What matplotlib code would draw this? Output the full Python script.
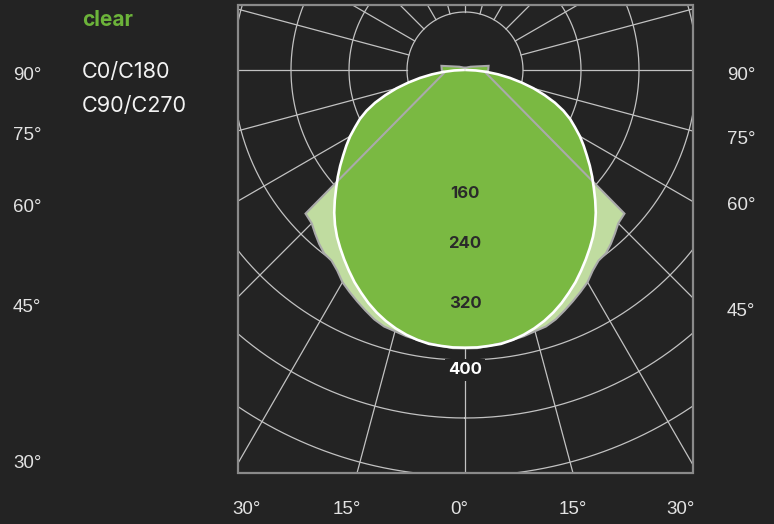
import numpy as np
import matplotlib
matplotlib.use("Agg")
import matplotlib.pyplot as plt
from matplotlib.patches import Rectangle
from matplotlib.transforms import offset_copy

# ---------------- data (cd per klm) ----------------
gamma_c0 = [0, 2.5, 5, 7.5, 10, 12.5, 15, 17.5, 20, 22.5, 25, 27.5, 30, 32.5, 35, 37.5,
            40, 42.5, 45, 47.5, 50, 52.5, 55, 57.5, 60, 62.5, 65, 67.5, 70, 72.5, 75,
            77.5, 80, 82.5, 85, 87.5, 90]
c0_c180 = [383, 383, 382, 381, 378, 374, 369, 363, 356, 348, 339, 330, 320, 310, 300, 290,
           279, 267, 254, 241, 229, 217, 205, 194, 183, 171, 160, 147, 132, 115, 98,
           80, 63, 46, 30, 15, 2]

gamma_c90 = [0, 2.5, 5, 7.5, 10, 12.5, 15, 17.5, 20, 22.5, 25, 27.5, 30, 32.5, 35, 37.5,
             40, 42.5, 45, 48, 82, 90, 100, 120, 180]
c90_c270 = [384, 384, 382, 380, 378, 376, 373, 371, 366, 359, 352, 345, 338, 328, 321, 319,
            313, 306, 299, 296, 29, 32, 33, 9, 3]

ring_values = [80, 160, 240, 320, 400, 480, 560, 640]
ring_labels = ["160", "240", "320", "400"]
spoke_angles = list(range(0, 360, 15))

side_left_labels = ["90°", "75°", "60°", "45°", "30°"]
side_right_labels = ["90°", "75°", "60°", "45°"]
bottom_labels = ["30°", "15°", "0°", "15°", "30°"]

title_text = "clear"
legend_texts = ["C0/C180", "C90/C270"]

# ---------------- styling / layout ----------------
W, H = 774, 524
BG = "#232323"
GREEN = "#7ab942"
LIGHT_GREEN = "#c0dca0"
OUTLINE_GRAY = "#aaaaaa"
GRID = "#c2c2c2"
BORDER = "#8a8a8a"
TEXT = "#e2e2e2"

cx, cy = 465, 70          # pole position (px from top-left)
px_per_cd = 0.725
rmax = 700

fig = plt.figure(figsize=(W / 100, H / 100), dpi=100, facecolor=BG)

R = rmax * px_per_cd
ax = fig.add_axes([(cx - R) / W, (H - cy - R) / H, 2 * R / W, 2 * R / H], projection="polar")
ax.set_theta_zero_location("S")
ax.set_ylim(0, rmax)
ax.set_axis_off()

clip_rect = Rectangle((238 / W, (H - 473) / H), (693 - 238) / W, (473 - 5) / H,
                      transform=fig.transFigure, facecolor="none", edgecolor="none")
fig.add_artist(clip_rect)

# grid: rings
tt = np.linspace(0, 2 * np.pi, 1441)
for v in ring_values:
    ln, = ax.plot(tt, np.full_like(tt, v), color=GRID, lw=0.9, zorder=1)
    ln.set_clip_path(clip_rect)
# grid: spokes (start at first ring)
for a in spoke_angles:
    ln, = ax.plot([np.deg2rad(a)] * 2, [ring_values[0], rmax], color=GRID, lw=0.9, zorder=1)
    ln.set_clip_path(clip_rect)


def mirrored(gam, val):
    g = np.array(gam, float)
    v = np.array(val, float)
    th = np.concatenate([-g[::-1], g[1:]])
    rr = np.concatenate([v[::-1], v[1:]])
    return np.deg2rad(th), rr


th0, r0 = mirrored(gamma_c0, c0_c180)
th90, r90 = mirrored(gamma_c90, c90_c270)

ax.fill(th90, r90, color=LIGHT_GREEN, lw=0, zorder=2)
ax.fill(th0, r0, color=GREEN, lw=0, zorder=3)
# upward lobes of C90/C270 rendered in the main green
g90 = np.array(gamma_c90, float)
v90 = np.array(c90_c270, float)
m = g90 >= 80
ear_th = np.deg2rad(np.concatenate([g90[m], -g90[m][::-1]]))
ear_r = np.concatenate([v90[m], v90[m][::-1]])
ax.fill(ear_th, ear_r, color=GREEN, lw=0, zorder=3)

ax.plot(np.append(th90, th90[0]), np.append(r90, r90[0]), color=OUTLINE_GRAY, lw=1.5,
        zorder=4, solid_joinstyle="miter")
ax.plot(th0, r0, color="white", lw=1.9, zorder=5, solid_joinstyle="round")

# ring labels along nadir
label_dy = [-8, 0, -1, -10]   # px offsets from the ring
for txt, dy in zip(ring_labels, label_dy):
    tr = offset_copy(ax.transData, fig=fig, x=0, y=dy, units="dots")
    if txt == "400":
        ax.text(0, float(txt), txt, transform=tr, ha="center", va="center", fontsize=12,
                fontweight="bold", family="Inter", color="white", zorder=7,
                bbox=dict(boxstyle="square,pad=0.2", fc=BG, ec="none"))
    else:
        ax.text(0, float(txt), txt, transform=tr, ha="center", va="center", fontsize=12,
                fontweight="bold", family="Inter", color="#2a2a2a", zorder=7)

# frame
fig.add_artist(Rectangle((238 / W, (H - 473) / H), (693 - 238) / W, (473 - 5) / H,
                         transform=fig.transFigure, fill=False, edgecolor=BORDER, lw=1.6, zorder=10))

# angle labels
left_y = [75, 135, 207, 308, 463]
right_y = [75, 139, 205, 312]
bottom_x = [246.7, 346.5, 459, 573, 680.5]
lab_kw = dict(fontsize=13.5, family="Liberation Sans", color=TEXT, va="center")
for t, y in zip(side_left_labels, left_y):
    fig.text(13 / W, 1 - y / H, t, ha="left", **lab_kw)
for t, y in zip(side_right_labels, right_y):
    fig.text(727 / W, 1 - y / H, t, ha="left", **lab_kw)
for t, x in zip(bottom_labels, bottom_x):
    fig.text(x / W, 1 - 510 / H, t, ha="center", **lab_kw)

# title + legend text
fig.text(82 / W, 1 - 26 / H, title_text, ha="left", va="baseline", fontsize=15,
         fontweight="bold", family="Inter", color="#6cb33a")
for t, yb in zip(legend_texts, [77.5, 111.5]):
    fig.text(82 / W, 1 - yb / H, t, ha="left", va="baseline", fontsize=15.6,
             family="Inter", color="#f2f2f2")

fig.savefig("out.png", dpi=100, facecolor=BG)
